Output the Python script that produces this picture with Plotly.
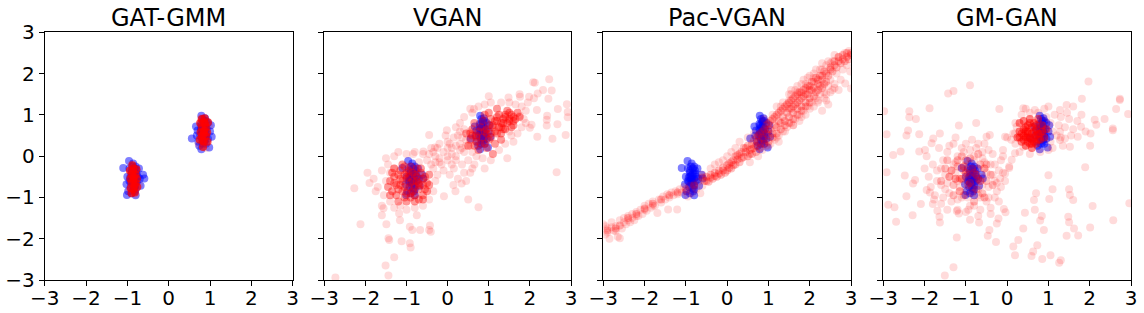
import plotly.graph_objects as go

titles = ["GAT-GMM", "VGAN", "Pac-VGAN", "GM-GAN"]
tick_vals = [-3, -2, -1, 0, 1, 2, 3]
tick_text = ["\u22123", "\u22122", "\u22121", "0", "1", "2", "3"]

# real samples (blue), shared by all panels
blue_x = [-0.85, -0.9, -0.8, -0.95, -0.75, -0.88, -0.82, -0.7, -1.0, -0.92, -0.78, -0.86, -0.95, -0.8,
          -0.68, -1.02, -0.9, -0.62, -0.84, -0.88, -0.76, -0.93, -0.82, -0.87, -0.98, -0.72, -1.10, -1.01,
          -0.59, -0.96, -0.8, -0.85, -0.9, -0.8, -0.86, -0.83, -0.88, -0.78, -0.92, -0.84, -0.8, -0.9,
          0.84, 0.8, 0.88, 0.76, 0.92, 0.79, 0.98, 0.79, 1.04, 0.56, 0.86, 0.7, 0.95, 0.9, 0.72, 0.82,
          1.0, 0.66, 0.85, 0.78, 0.9, 0.74, 0.95, 0.86, 0.68, 1.02, 0.82, 0.88, 0.8, 0.9,
          0.84, 0.8, 0.88, 0.82, 0.86, 0.78, 0.9, 0.83, 0.87, 0.8, 0.85]
blue_y = [-0.55, -0.4, -0.7, -0.6, -0.5, -0.25, -0.85, -0.55, -0.5, -0.75, -0.35, -0.18, -0.3, -0.95,
          -0.72, -0.68, -0.9, -0.45, -0.62, -0.48, -0.6, -0.52, -0.42, -0.7, -0.85, -0.3, -0.29, -0.94,
          -0.54, -0.12, -0.8, -0.45, -0.35, -0.55, -0.65, -0.3, -0.58, -0.42, -0.62, -0.78, -0.25, -0.5,
          0.58, 0.75, 0.4, 0.5, 0.65, 0.98, 0.21, 0.17, 0.47, 0.43, 0.85, 0.62, 0.8, 0.3, 0.35, 0.9,
          0.6, 0.72, 0.5, 0.65, 0.55, 0.25, 0.42, 0.72, 0.5, 0.75, 0.3, 0.92, 0.45, 0.85,
          0.52, 0.62, 0.68, 0.4, 0.35, 0.78, 0.48, 0.7, 0.6, 0.55, 0.82]

# ---- GAT-GMM generated samples
gat_core_x = [-0.85, -0.85, -0.85, -0.9, -0.8, -0.9, -0.8, -0.88, -0.82, -0.93, -0.77, -0.87, -0.83, -0.92,
              -0.78, -0.94, -0.76, -0.86, -0.84, -0.9,
              0.85, 0.85, 0.85, 0.8, 0.9, 0.8, 0.9, 0.83, 0.87, 0.77, 0.93, 0.82, 0.88, 0.76, 0.94,
              0.95, 0.75, 0.86, 0.84, 0.8]
gat_core_y = [-0.55, -0.3, -0.8, -0.45, -0.45, -0.65, -0.65, -0.22, -0.88, -0.55, -0.55, -0.38, -0.72, -0.78,
              -0.32, -0.35, -0.75, -0.6, -0.5, -0.9,
              0.58, 0.35, 0.82, 0.48, 0.48, 0.7, 0.7, 0.22, 0.92, 0.58, 0.58, 0.38, 0.78, 0.8, 0.35,
              0.82, 0.4, 0.62, 0.52, 0.9]
gat_sparse_x = [-0.95, -0.72, -0.8, -0.9, 0.72, 0.98, 0.9, 0.78]
gat_sparse_y = [-0.85, -0.7, -0.92, -0.2, 0.3, 0.75, 0.2, 0.92]

# ---- VGAN generated samples
vgan_core_x = [-0.9, -1.1, -0.7, -1.0, -0.8, -1.2, -0.6, -1.0, -0.8, -1.3, -1.15, -0.55, -0.95, -0.75, -1.25,
               -0.65, -1.05, -0.85, -0.5, -1.35, -1.1, -0.9, -0.7, -1.2, -0.6, -1.4, -0.45, -0.95, -1.05, -0.75,
               -1.0, -0.85, -1.15, -0.7, -1.3, -0.6, -1.05, -0.75, -1.2, -0.9, -1.1, -0.8, -1.35, -0.55, -1.25,
               -0.65, -0.95, -1.45, -0.5, -1.0, -0.85, -1.15, -0.7, -1.3, -0.6, -0.9, -1.4, -0.45, -1.05, -0.8,
               0.9, 1.1, 0.7, 1.3, 0.8, 1.0, 1.2, 0.6, 0.85, 1.4, 1.5, 1.55, 1.25, 0.55, 0.95, 1.15, 1.35,
               0.65, 1.05, 0.75, 1.6, 1.45, 0.45, 1.7, 1.2, 0.9, 0.5, 1.1, 1.3,
               0.95, 1.15, 0.75, 1.35, 1.0, 0.85, 1.25, 1.45, 0.6, 1.6, 1.05, 0.7, 1.15, 1.5, 0.9, 1.3, 0.8,
               1.4, 1.65, 1.2, 0.55, 1.0, 1.55, 0.65, 1.75,
               1.1, 1.3, 1.5, 0.95, 1.2, 1.4, 1.05, 0.7, 1.6, 1.35]
vgan_core_y = [-0.65, -0.6, -0.7, -0.4, -0.45, -0.8, -0.55, -0.9, -0.95, -0.5, -0.35, -0.8, -0.75, -0.3, -0.7,
               -0.4, -1.0, -0.85, -0.65, -0.85, -0.2, -0.25, -1.05, -1.1, -0.95, -0.6, -0.45, -0.5, -0.75, -0.6,
               -0.55, -0.6, -0.7, -0.8, -0.65, -0.7, -0.45, -0.5, -0.45, -0.9, -0.85, -0.75, -0.4, -0.5, -0.95,
               -0.3, -0.35, -0.75, -0.85, -1.1, -0.4, -0.55, -0.65, -0.3, -1.05, -1.0, -0.95, -0.7, -0.25, -1.1,
               0.6, 0.7, 0.5, 0.8, 0.3, 0.4, 0.55, 0.65, 0.85, 0.95, 0.85, 1.0, 1.0, 0.4, 0.2, 0.3, 0.65,
               0.8, 0.9, 0.15, 0.75, 1.1, 0.55, 1.05, 1.15, 1.0, 0.25, 0.05, 0.4,
               0.55, 0.6, 0.6, 0.9, 0.75, 0.45, 0.7, 0.8, 0.5, 0.95, 0.45, 0.35, 0.85, 1.05, 0.3, 0.55, 0.7,
               0.65, 0.9, 0.95, 0.55, 1.05, 0.7, 0.25, 0.95,
               0.75, 0.7, 0.9, 0.65, 0.85, 1.0, 0.55, 0.45, 0.85, 0.8]
vgan_sparse_x = [-1.5, -1.6, -1.45, -1.7, -1.55, -1.4, -1.3, -1.6, -1.8, -1.75, -1.5, -1.3, -1.2, -1.0, -0.8,
                 -0.6, -0.5, -0.35, -0.3, -0.35, -0.45, -0.6, -0.8, -1.0, -1.15, -0.25, -1.9, -1.95, -1.4,
                 -1.3, -0.4, -0.2, -0.7,
                 -0.3, -0.1, 0.0, 0.1, 0.2, 0.3, -0.2, 0.0, 0.4, 0.15, -0.15, 0.35, -0.05, 0.25, 0.45, 0.05,
                 -0.25, 0.2, 0.5, 0.4, 0.1, -0.4, 0.3, 0.55, -0.1, 0.25, 0.6, 0.45, 0.0,
                 -0.35, -0.2, 0.05, 0.15, 0.35, 0.55, 0.1, -0.3, 0.3, 0.45, -0.45, 0.2, 0.6, 0.0, 0.4,
                 0.3, 0.4, 0.6, 0.75, 0.9, 1.05, 1.3, 1.5, 1.65, 1.8, 1.9, 1.85, 1.8, 1.7, 1.55, 1.4, 1.25,
                 1.05, 0.85, 0.65, 0.7, 1.95, 2.1, 1.6, 1.5, 0.35, 1.0, 1.9, 0.2, 1.75, 0.55, 1.45, 0.9, 0.55,
                 -2.73, -2.27, -2.12, -1.44, -1.51, -1.30, -1.44, -1.42, -1.12, -0.92, -0.90, -0.92, -0.86,
                 -0.67, -0.43, -0.41, -0.45, -1.49, -1.60, -1.56, -1.16, -1.18, -0.75, 0.50, 0.75, -0.09,
                 0.19, 0.14, 0.34, 2.65, 2.87, 2.92, 2.92, 2.90, 2.67, 2.42, 2.41, 2.55, 2.41, 2.18, 2.00,
                 2.04, 2.47, 2.08, 2.12, 2.32, 2.45, 2.53, 2.19, 1.98, 1.76, 1.48, 2.17, 1.76, 2.68, -0.45,
                 0.64, -0.02, -0.31, -0.59, -0.84]
vgan_sparse_y = [-0.6, -0.35, -0.2, -0.75, -0.95, -1.1, -1.25, -1.2, -0.55, -0.85, -0.05, 0.0, 0.1, 0.05, 0.1,
                 0.05, -0.1, -0.3, -0.6, -0.85, -1.05, -1.2, -1.25, -1.3, -1.2, -0.45, -0.65, -0.4, -0.4,
                 -0.3, -0.2, -0.15, -0.15,
                 0.0, 0.1, -0.1, 0.2, 0.0, 0.3, 0.3, 0.35, 0.1, -0.3, -0.2, -0.2, 0.5, 0.5, 0.4, -0.45,
                 0.2, 0.25, -0.1, -0.4, 0.05, 0.2, 0.6, 0.25, -0.35, -0.55, -0.3, -0.6, 0.2,
                 0.1, -0.05, 0.3, 0.45, 0.45, 0.6, -0.2, -0.15, 0.15, 0.25, 0.05, -0.1, 0.1, 0.0, 0.65,
                 0.8, 0.95, 1.05, 1.2, 1.25, 1.3, 1.3, 1.3, 1.25, 1.2, 1.1, 0.9, 0.7, 0.55, 0.5, 0.3, 0.15,
                 -0.1, -0.05, -0.2, 0.0, 1.3, 1.4, 0.35, 0.6, 0.2, 1.45, 0.8, 0.7, 1.5, 1.15, -0.05, -0.3, -0.4,
                 -2.94, -0.78, -1.65, -2.89, -2.65, -2.45, -1.99, -2.03, -2.06, -2.11, -2.21, -1.71, -1.79,
                 -1.79, -1.68, -1.83, -1.79, -1.65, -1.43, -1.26, -1.55, -1.39, -1.43, -1.05, -1.24, -0.97,
                 -0.85, -0.70, -0.66, -0.39, 0.51, 0.94, 1.07, 1.26, 0.77, 0.98, 0.88, 0.42, 0.74, 0.47, 0.69,
                 0.76, 1.86, 1.79, 1.78, 1.60, 1.39, 1.59, 1.52, 1.44, 1.44, 1.42, 1.12, 0.98, 1.14, 0.51,
                 1.14, 0.63, 0.21, 0.11, 0.05]

# ---- Pac-VGAN generated samples
pac_core_x = [-0.55, -0.5, -0.45, -0.4, -0.35, -0.3, -0.25, -0.2, -0.15, -0.1, -0.05, 0.0, 0.0, 0.05, 0.1, 0.1,
              0.15, 0.2, 0.2, 0.25, 0.3, 0.3, 0.35, 0.4, 0.4, 0.45, 0.5, 0.5, 0.55, 0.6, 0.6, 0.65, 0.7, 0.7,
              0.75, 0.8, 0.8, 0.85, 0.9, 0.9, 0.95, 1.0, 1.0, 1.05, 1.1, 1.1, 1.15, 1.2, 1.2, 1.25, 1.3, 1.3,
              1.35, 1.4, 1.4, 1.45, 1.5, 1.5, 1.55, 1.6, 1.6, 1.65, 1.7, 1.7, 1.75, 1.8, 1.8, 1.85, 1.9, 1.9,
              1.95, 2.0, 2.0, 2.05, 2.1, 2.15, 2.2, 2.25, 2.3, 2.35, 2.4, 2.5, 2.6, 2.7, 2.8, 2.9, 3.0,
              -0.6, -0.5, -0.4, -0.3, -0.2, -0.1, 0.05, 0.15, 0.25, 0.35, 0.45, 0.55, 0.6, 0.65, 0.7, 0.75,
              0.8, 0.85, 0.9, 0.95, 1.0, 1.0, 1.05, 1.1, 1.15, 1.2, 1.25, 1.3, 1.35, 1.4, 1.45, 1.5, 1.5,
              1.55, 1.6, 1.6, 1.65, 1.7, 1.7, 1.75, 1.8, 1.8, 1.85, 1.9, 1.9, 1.95, 2.0, 2.0, 2.05, 2.1,
              2.1, 2.15, 2.2, 2.2, 2.25, 2.3, 2.3, 2.35, 2.4, 2.45, 2.5, 2.55, 2.6, 2.65, 2.7, 2.75, 2.8,
              2.85, 2.9, 2.95, 3.0,
              -2.9, -2.7, -2.6, -2.4, -2.2, -2.0, -1.8, -1.6, -1.4, -1.2, -1.0, -0.8]
pac_core_y = [-0.6, -0.5, -0.62, -0.45, -0.55, -0.4, -0.5, -0.35, -0.45, -0.28, -0.4, -0.22, -0.35, -0.28, -0.15,
              -0.3, -0.1, -0.2, 0.0, -0.08, 0.05, -0.15, 0.1, -0.02, 0.2, 0.1, 0.25, 0.0, 0.15, 0.3, 0.05, 0.2,
              0.45, 0.25, 0.35, 0.55, 0.3, 0.45, 0.65, 0.4, 0.55, 0.8, 0.5, 0.65, 0.9, 0.55, 0.75, 1.0, 0.7,
              0.85, 1.1, 0.8, 0.95, 1.2, 0.85, 1.05, 1.3, 0.95, 1.15, 1.4, 1.05, 1.25, 1.5, 1.15, 1.35, 1.55,
              1.2, 1.45, 1.65, 1.3, 1.5, 1.7, 1.4, 1.6, 1.8, 1.55, 1.85, 1.7, 1.95, 1.75, 2.0, 2.1, 2.2, 2.3,
              2.35, 2.4, 2.45,
              -0.52, -0.6, -0.52, -0.48, -0.42, -0.35, -0.18, -0.22, 0.02, -0.05, 0.2, 0.05, 0.18, 0.38, 0.1, 0.5,
              0.2, 0.6, 0.3, 0.75, 0.35, 0.65, 0.85, 0.45, 0.95, 0.55, 1.05, 0.65, 1.15, 0.75, 1.25, 0.8, 1.15,
              1.35, 0.9, 1.2, 1.45, 1.0, 1.3, 1.55, 1.1, 1.4, 1.6, 1.2, 1.5, 1.7, 1.3, 1.6, 1.8, 1.45,
              1.65, 1.9, 1.6, 1.75, 1.95, 1.65, 1.85, 2.05, 1.8, 1.95, 2.15, 2.05, 2.3, 2.15, 2.4, 2.25, 2.45,
              2.3, 2.5, 2.35, 2.5,
              -1.8, -1.75, -1.68, -1.5, -1.4, -1.27, -1.15, -1.05, -0.95, -0.88, -0.8, -0.72]
pac_sparse_x = [-3.0, -2.95, -2.9, -2.85, -2.8, -2.75, -2.7, -2.65, -2.6, -2.6, -2.55, -2.5, -2.45, -2.4, -2.35,
                -2.3, -2.25, -2.2, -2.15, -2.1, -2.05, -2.0, -1.95, -1.9, -1.85, -1.8, -1.75, -1.69, -1.65,
                -1.6, -1.55, -1.5, -1.43, -1.45, -1.4, -1.35, -1.3, -1.25, -1.21, -1.2, -1.15, -1.1, -1.05,
                -1.0, -0.95, -0.9, -0.85, -0.8, -0.75, -0.7, -0.65, -0.6,
                -2.95, -2.9, -2.8, -2.7, -2.5, -2.4, -2.3, -2.2, -2.0, -1.8,
                -0.4, -0.3, -0.6, -0.2, -0.1, 0.0, 0.1, 0.2, 0.3, 0.5, 0.55, 0.65, 0.75, 0.85, 0.95, 1.05,
                1.15, 1.2, 1.25, 1.35, 1.35, 1.45, 1.5, 1.55, 1.65, 1.65, 1.75, 1.8, 1.85, 1.95, 1.95, 2.05,
                2.1, 2.15, 2.25, 2.25, 2.35, 2.4, 2.45, 2.5, 2.55, 2.6, 2.65, 2.7, 2.75, 2.8, 2.85, 2.86,
                2.9, 2.95, 2.98, 3.0, 2.6, 2.45, 2.3, 2.15, 2.0, 1.85, 1.7, 1.55, 2.5, 2.2, 1.9, 1.6, 2.7,
                2.35, 2.3, 2.45,
                1.0, 1.1, 1.2, 1.3, 1.4, 1.5, 1.6, 1.7, 1.8, 1.9, 2.0, 2.1, 2.2, 2.3, 2.4, 2.5, 2.6, 2.1,
                1.75, 2.4, 1.25, 0.9, 1.55, 2.55]
pac_sparse_y = [-1.65, -1.9, -1.75, -2.0, -1.6, -1.8, -1.7, -1.95, -1.55, -1.99, -1.75, -1.5, -1.65, -1.45, -1.6,
                -1.4, -1.55, -1.35, -1.45, -1.3, -1.4, -1.2, -1.32, -1.15, -1.25, -1.1, -1.2, -1.38, -1.05,
                -1.12, -0.98, -1.05, -1.29, -0.92, -1.0, -0.88, -0.95, -0.85, -1.29, -0.92, -0.8, -0.88, -0.75,
                -0.85, -0.98, -0.72, -0.9, -0.68, -0.8, -0.62, -0.9, -0.72,
                -1.7, -1.85, -1.72, -1.82, -1.6, -1.55, -1.5, -1.45, -1.3, -1.2,
                -0.3, -0.2, -0.45, -0.15, -0.1, 0.0, 0.1, 0.2, 0.35, 0.45, -0.15, 0.55, 0.0, 0.15, 0.25, 0.3,
                0.4, 1.2, 0.5, 0.6, 1.3, 0.7, 1.5, 0.8, 0.9, 1.6, 1.0, 1.75, 1.1, 1.2, 1.9, 1.3,
                2.0, 1.4, 1.5, 2.1, 1.55, 2.2, 1.7, 1.85, 2.3, 1.75, 2.0, 2.4, 1.85, 2.1, 2.5, 1.76,
                2.2, 2.55, 2.05, 1.64, 2.45, 2.3, 2.25, 2.1, 1.95, 1.85, 1.7, 1.6, 1.55, 1.3, 1.0, 0.75, 1.6,
                1.4, 1.1, 1.25,
                0.25, 1.0, 0.45, 1.2, 0.6, 1.35, 0.75, 1.55, 0.95, 1.75, 1.15, 1.9, 1.35, 2.1, 1.5, 2.25, 1.65, 1.2,
                0.85, 1.35, 0.35, 0.9, 1.5, 1.6]

# ---- GM-GAN generated samples
gm_core_x = [0.6, 0.5, 0.7, 0.45, 0.75, 0.55, 0.65, 0.4, 0.8, 0.35, 0.6, 0.5, 0.85, 0.3, 0.7, 0.45, 0.9, 0.55,
             0.75, 0.4, 0.25, 0.65, 0.5, 0.95, 0.3,
             0.6, 0.5, 0.7, 0.4, 0.6, 0.35, 0.8, 0.45, 0.65, 0.55, 0.7, 0.5, 0.4, 0.75, 0.3, 0.6, 0.85,
             0.55, 0.45, 0.65]
gm_core_y = [0.55, 0.45, 0.65, 0.7, 0.4, 0.3, 0.8, 0.5, 0.55, 0.35, 0.2, 0.75, 0.75, 0.6, 0.3, 0.25, 0.45, 0.9,
             0.9, 0.85, 0.45, 0.45, 0.6, 0.65, 0.8,
             0.4, 0.55, 0.5, 0.4, 0.7, 0.55, 0.4, 0.6, 0.6, 0.45, 0.75, 0.35, 0.65, 0.55, 0.45, 0.3, 0.6,
             0.8, 0.45, 0.35]
gm_mid_x = [-0.95, -1.05, -0.8, -1.15, -0.7, -0.95, -1.2, -0.65, -1.0, -0.85, -1.3, -0.5,
            -1.0, -0.9, -1.1, -0.75, -1.25, -0.65, -1.05, -0.85, -1.35, -0.55,
            -1.15, -0.75, -0.6, -1.4, -0.9, -1.2, -0.5, -1.05,
            -1.5, -0.4, -1.3, -0.55, -1.6, -0.35, -1.45, -0.7, -1.1, -0.8]
gm_mid_y = [-0.45, -0.35, -0.4, -0.55, -0.55, -0.7, -0.25, -0.2, -0.1, -0.9, -0.7, -0.6,
            -0.4, -0.65, -0.55, -0.45, -0.55, -0.6, -0.25, -0.3, -0.35, -0.3,
            -0.85, -0.8, -0.9, -0.5, -0.05, -0.1, -0.2, -0.95,
            -0.3, -0.45, -0.95, -1.0, -0.6, -0.7, -0.1, 0.05, 0.0, -1.1]
gm_sparse_x = [0.2, 0.15, 0.2, 0.35, 0.55, 0.75, 0.95, 1.05, 1.1, 1.05, 1.0, 0.8, 0.55, 0.3, 0.1, 1.2, 1.25, 1.15,
               0.9, 0.45, 1.3, 1.4, 1.5, 1.6, 1.7, 1.45, 1.8, 1.3, 1.55, 1.35, 1.1, 0.0, 1.9,
               -0.9, -1.1, -0.7, -1.2, -0.6, -1.0, -0.8, -1.3, -0.5, -1.4, -1.1, -0.7, -0.4, -1.5, -0.3, -1.2,
               -0.6, -1.6, -0.9, -1.35, -0.45, -0.8, -1.7, -0.2, -1.45, -1.0, -0.75, -1.25, -0.55, -1.05, -0.35,
               -1.55, -0.25, -1.8, -0.15, -1.0, -0.65, -1.2, -0.4, -1.65, -0.05, -1.9, -0.7, -1.3, -0.1, -1.75,
               -0.2, -1.15, -0.85, -0.6,
               -1.0, -0.9, -1.1, -0.75, -1.25, -0.65, -1.05, -0.85, -1.35, -0.55, -1.15, -0.7, -1.45, -0.45,
               -0.95, -1.25, -0.6, -1.5, -0.35, -1.05, -0.8, -1.4, -0.5, -1.6, -0.3, -0.9, -1.2, -0.65, -1.7,
               -0.25, -1.55, -0.45, -1.1, -0.75, -1.85, -0.1, -1.4, -0.55, -1.0, -1.6, -0.3, -0.15, -2.0,
               -0.85, -1.25, -0.4, -0.1, -1.95, 0.05, -0.7,
               -1.51, -1.30, -1.22, -1.43, -1.30, -0.90, -1.88, -2.37, -2.37, -2.21, -2.98, -2.92, -2.40, -2.44,
               -2.13, -1.79, -1.83, -1.63, -1.17, -0.75, -0.19, -0.50, -0.42, -0.05, -2.76, -2.58, -2.13, -1.99,
               -2.92, -2.48, -2.28, -2.23, -2.44, -2.88, -2.73, -2.69, -2.29, -2.09, -1.95, -1.87, -1.77, -1.80,
               -1.69, -1.64, -1.63, -1.45, -1.22, -1.17, -0.94, -0.90, -0.68, -0.43, -0.47, -0.27, -0.25, -0.21,
               -0.08, -0.04, 0.15, 0.19, 0.27, 0.39, 0.43, 0.59, 0.63, 0.73, 0.85, 1.05, 1.26, 1.30, 0.89, 0.80,
               0.84, 0.67, 0.65, 0.70, 1.02, 1.10, 1.00, 1.44, 1.72, 1.62, 1.50, 1.48, 2.01, 2.07, 1.60, 1.52,
               1.50, 1.89, 2.57, 2.96, 0.39, 0.19, 0.11, 0.05, -0.05, -0.17,
               1.97, 1.81, 2.73, 2.73, 2.93, 2.64, 2.36, 2.56, 2.56, 2.12, 2.16, 2.02, 1.79, 1.71, 2.01, 1.52,
               1.40, 1.28, 1.60, 1.44, 1.28, 1.00, 0.39, 0.67, 0.23, 0.19, 1.28]
gm_sparse_y = [0.3, 0.55, 0.8, 1.0, 1.05, 1.05, 0.95, 0.8, 0.6, 0.35, 0.15, 0.1, 0.05, 0.1, 0.4, 0.5, 0.75, 1.0,
               1.15, 1.15, 0.45, 0.7, 0.9, 0.65, 0.85, 1.05, 1.0, 0.95, 0.5, 0.25, 0.2, 0.45, 0.6,
               -0.5, -0.3, -0.3, -0.6, -0.7, -0.8, -0.1, -0.2, -0.4, -0.5, -1.0, -0.95, -0.2, -0.8, -0.6, 0.0,
               0.1, -0.3, 0.15, -1.1, -1.0, -1.2, -0.6, -0.35, 0.1, -0.2, -0.6, -0.4, -0.15, -0.6, 0.05,
               -1.0, -0.85, -0.2, -0.1, 0.3, -1.3, -1.3, -1.25, 0.2, -0.6, -0.5, 0.3, 0.3, 0.15, -0.95,
               -1.1, -0.85, -0.75, -0.5,
               -0.4, -0.65, -0.55, -0.45, -0.55, -0.6, -0.25, -0.3, -0.35, -0.3, -0.75, -0.8, -0.65, -0.75,
               -1.0, -0.15, -0.05, -0.45, -0.45, 0.1, 0.0, -0.9, -1.1, -0.7, -0.2, -1.2, -1.05, -1.0, -0.35,
               -0.65, -0.1, 0.15, 0.2, 0.2, -0.75, -0.4, 0.25, 0.3, -1.35, -1.15, -1.0, -0.75, -0.3,
               0.4, 0.45, -1.4, 0.0, 0.0, -0.25, -1.45,
               -2.89, -2.69, -1.97, 1.52, 1.58, 1.72, 1.16, 1.09, 0.94, 0.90, 1.09, 0.53, 0.62, 0.50,
               0.53, 0.43, 0.31, 0.55, 0.74, 0.80, 1.14, 0.47, 0.51, 0.47, 0.03, 0.11, 0.11, 0.15,
               -0.39, -0.47, -0.66, -0.58, -0.97, -1.18, -1.24, -1.59, -1.43, -1.16, -0.82, -0.88, -1.05, -1.16,
               -1.32, -1.47, -1.61, -1.30, -1.33, -1.39, -1.30, -1.54, -1.61, -1.79, -1.93, -2.08, -1.63, -1.51,
               -1.28, -1.36, -2.19, -2.40, -2.03, -1.75, -1.37, -2.42, -2.31, -2.16, -2.49, -2.40, -2.58, -2.52,
               -1.79, -1.56, -1.45, -1.30, -1.06, -0.90, -1.04, -0.80, -0.46, -1.93, -1.92, -1.75, -1.60, -1.47,
               -1.73, -1.21, -1.06, -0.94, -0.80, -0.27, -1.55, -1.14, 0.23, 0.07, -0.09, -0.29, -0.42, -0.54,
               1.81, 1.39, 1.39, 1.36, 1.02, 1.14, 0.90, 0.67, 0.63, 0.88, 0.76, 0.55, 0.71, 0.47, 0.25, 0.23,
               0.43, 0.59, 1.20, 1.24, 1.12, 1.20, 1.16, 1.12, 0.71, 0.55, 0.39]

empty = []
panels = [
    (gat_core_x, gat_core_y, empty, empty, gat_sparse_x, gat_sparse_y, 0.7),
    (vgan_core_x, vgan_core_y, empty, empty, vgan_sparse_x, vgan_sparse_y, 0.4),
    (pac_core_x, pac_core_y, empty, empty, pac_sparse_x, pac_sparse_y, 0.25),
    (gm_core_x, gm_core_y, gm_mid_x, gm_mid_y, gm_sparse_x, gm_sparse_y, 0.5),
]

W, H = 1144, 313
x_px = [(44.7, 292.7), (324.3, 571.0), (603.3, 851.0), (883.3, 1131.0)]
y_dom = [1 - 280.0 / H, 1 - 32.3 / H]

fig = go.Figure()
MS = 8
for i, (cx, cy, mx, my, sx, sy, core_alpha) in enumerate(panels):
    ax = "" if i == 0 else str(i + 1)
    common = dict(mode="markers", xaxis="x" + ax, yaxis="y" + ax, showlegend=False, hoverinfo="skip")
    fig.add_trace(go.Scatter(x=blue_x, y=blue_y,
                             marker=dict(size=MS, color="rgba(0,0,255,0.5)", line=dict(width=0)), **common))
    fig.add_trace(go.Scatter(x=sx, y=sy,
                             marker=dict(size=MS, color="rgba(255,0,0,0.14)", line=dict(width=0)), **common))
    if mx:
        fig.add_trace(go.Scatter(x=mx, y=my,
                                 marker=dict(size=MS, color="rgba(255,0,0,0.25)", line=dict(width=0)), **common))
    fig.add_trace(go.Scatter(x=cx, y=cy,
                             marker=dict(size=MS, color="rgba(255,0,0,%s)" % core_alpha, line=dict(width=0)),
                             **common))

axis_common = dict(range=[-3, 3], tickmode="array", tickvals=tick_vals, ticktext=tick_text,
                   showgrid=False, zeroline=False, showline=True, linecolor="black", linewidth=1,
                   mirror=True, ticks="outside", ticklen=5, tickcolor="black", automargin=False,
                   tickfont=dict(family="DejaVu Sans", size=20, color="black"))
layout = dict(width=W, height=H, margin=dict(l=0, r=0, t=0, b=0, autoexpand=False), plot_bgcolor="white",
              paper_bgcolor="white", annotations=[])
for i in range(4):
    ax = "" if i == 0 else str(i + 1)
    xd = [x_px[i][0] / W, x_px[i][1] / W]
    layout["xaxis" + ax] = dict(axis_common, domain=xd, anchor="y" + ax, ticklabelstandoff=-5)
    ya = dict(axis_common, domain=y_dom, anchor="x" + ax, showticklabels=(i == 0))
    layout["yaxis" + ax] = ya
    layout["annotations"].append(dict(text=titles[i], x=(xd[0] + xd[1]) / 2, y=1 - 18.0 / H,
                                      xref="paper", yref="paper", showarrow=False,
                                      xanchor="center", yanchor="middle",
                                      font=dict(family="DejaVu Sans", size=24, color="black")))
fig.update_layout(**layout)
fig.write_html("out.html", config={"displayModeBar": False},
               post_script="document.body.style.margin='0px';")
